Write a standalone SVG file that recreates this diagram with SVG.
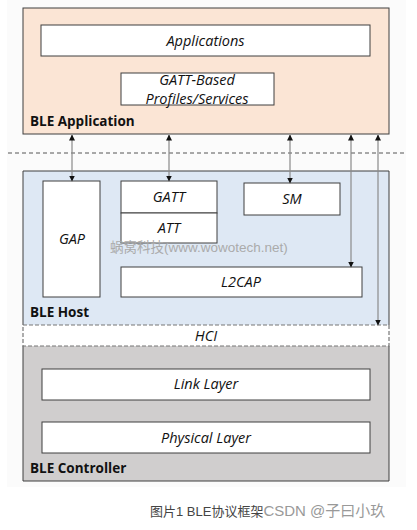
<svg xmlns="http://www.w3.org/2000/svg" width="417" height="530" viewBox="0 0 417 530">
<style>
.box{fill:#fff;stroke:#3f3f3f;stroke-width:1}
.lbl{font-family:"Open Sans","Liberation Sans",sans-serif;font-style:italic;font-size:14.5px;fill:#111;text-anchor:middle}
.ttl{font-family:"Open Sans","Liberation Sans",sans-serif;font-weight:bold;font-size:13.5px;fill:#111}
.conn{stroke:#8a8a8a;stroke-width:1.2;fill:none;marker-start:url(#ah);marker-end:url(#ah)}
</style>
<defs>
<marker id="ah" viewBox="0 0 6 6" refX="5.5" refY="3" markerWidth="6" markerHeight="6" markerUnits="userSpaceOnUse" orient="auto-start-reverse">
<path d="M0,0 L6,3 L0,6 z" fill="#111"/>
</marker>
</defs>
<rect x="7" y="0" width="399" height="487" fill="#fbfbfb"/>
<g id="ble-application">
<rect x="23" y="8" width="366" height="126" fill="#fbe5d5" stroke="#3f3f3f"/>
<text class="ttl" x="30" y="126">BLE Application</text>
</g>
<g id="applications">
<rect class="box" x="41" y="25" width="329" height="31"/>
<text class="lbl" x="205.5" y="46">Applications</text>
</g>
<g id="gatt-profiles">
<rect class="box" x="121" y="73" width="153" height="32"/>
<text class="lbl" x="197" y="85">GATT-Based</text>
<text class="lbl" x="197" y="104">Profiles/Services</text>
</g>
<line x1="8" y1="153" x2="406" y2="153" stroke="#555" stroke-width="1" stroke-dasharray="4,3"/>
<g id="ble-host">
<rect x="23" y="171" width="366" height="154" fill="#dee8f4"/>
<path d="M23,325 V171 H389 V325" fill="none" stroke="#3f3f3f"/>
<text class="ttl" x="30" y="317">BLE Host</text>
</g>
<g id="gap">
<rect class="box" x="43" y="181" width="57" height="116"/>
<text class="lbl" x="72" y="244">GAP</text>
</g>
<g id="gatt">
<rect class="box" x="121" y="181" width="96" height="32"/>
<text class="lbl" x="169" y="202">GATT</text>
</g>
<g id="att">
<rect class="box" x="121" y="213" width="96" height="30"/>
<text class="lbl" x="169" y="233">ATT</text>
</g>
<g id="sm">
<rect class="box" x="244" y="183" width="96" height="32"/>
<text class="lbl" x="292" y="204">SM</text>
</g>
<text x="110" y="252" font-family="'Liberation Sans','Noto Sans CJK SC',sans-serif" font-size="13.5" fill="#ababab">蜗窝科技(www.wowotech.net)</text>
<g id="l2cap">
<rect class="box" x="121" y="267" width="241" height="30"/>
<text class="lbl" x="241" y="287">L2CAP</text>
</g>
<g id="ble-controller">
<rect x="23" y="346" width="366" height="135" fill="#d0cece"/>
<path d="M23,346 V481 H389 V346" fill="none" stroke="#3f3f3f"/>
<text class="ttl" x="30" y="473">BLE Controller</text>
</g>
<g id="hci">
<rect x="23" y="325" width="366" height="21" fill="#fff" stroke="#777" stroke-width="1.2" stroke-dasharray="4,2"/>
<text class="lbl" x="206" y="341">HCI</text>
</g>
<g id="link-layer">
<rect class="box" x="42" y="369" width="328" height="31"/>
<text class="lbl" x="206" y="389">Link Layer</text>
</g>
<g id="physical-layer">
<rect class="box" x="42" y="422" width="328" height="31"/>
<text class="lbl" x="206" y="443">Physical Layer</text>
</g>
<g id="connectors">
<line class="conn" x1="72" y1="135" x2="72" y2="181"/>
<line class="conn" x1="169" y1="135" x2="169" y2="181"/>
<line class="conn" x1="290" y1="135" x2="290" y2="183"/>
<line class="conn" x1="351" y1="135" x2="351" y2="267"/>
<line class="conn" x1="378" y1="135" x2="378" y2="325"/>
</g>
<text x="150" y="516" font-family="'Liberation Sans','Noto Sans CJK SC',sans-serif" font-size="13" fill="#444">图片1 BLE协议框架<tspan fill="#999" font-size="15">CSDN @子曰小玖</tspan></text>
</svg>
